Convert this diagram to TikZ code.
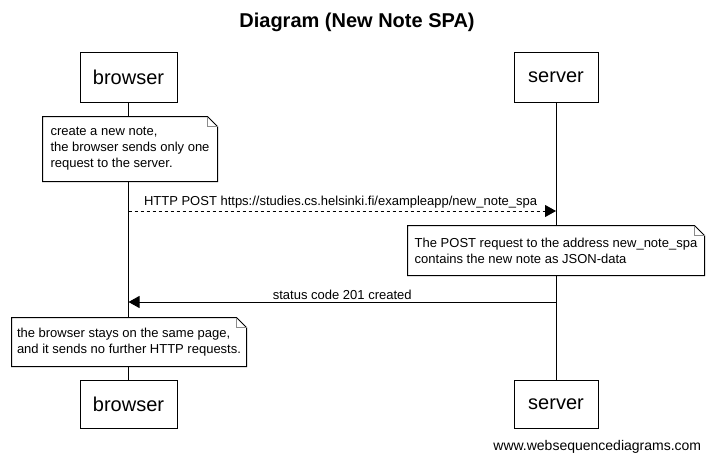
\documentclass[tikz,border=0pt]{standalone}
\usepackage{fontspec}
\setmainfont{Liberation Sans}
\usetikzlibrary{arrows.meta, positioning}

% outline of a note with a folded corner
\newcommand{\notefold}[1]{%
  \draw (#1.south west) -- (#1.north west) -- ([xshift=-10pt]#1.north east)
        -- ([yshift=-10pt]#1.north east) -- (#1.south east) -- cycle;
  \draw[black!45] ([xshift=-10pt]#1.north east) -- ([xshift=-10pt,yshift=-10pt]#1.north east)
        -- ([yshift=-10pt]#1.north east);}

\begin{document}
\begin{tikzpicture}[
    x=1pt, y=-1pt, line width=1pt,
    actor/.style={rectangle, draw, fill=white, minimum height=50pt, font=\fontsize{20}{24}\selectfont},
    note/.style={rectangle, fill=white, align=left, inner sep=0pt, font=\fontsize{13}{16}\selectfont},
    msg/.style={font=\fontsize{13}{16}\selectfont, inner sep=2pt},
    tip/.style={-{Triangle[length=11pt, width=12pt]}}
]
\useasboundingbox (0,0) rectangle (714,463);

% TITLE
\node[font=\bfseries\fontsize{20}{24}\selectfont] (title) at (357,22) {Diagram (New Note SPA)};

% PARTICIPANTS
\node[actor, minimum width=97pt] (browser-top) at (128.5,77.5) {browser};
\node[actor, minimum width=84pt] (server-top) at (556,77.5) {server};
\node[actor, minimum width=97pt, minimum height=48pt] (browser-bot) at (128.5,404.5) {browser};
\node[actor, minimum width=84pt, minimum height=48pt] (server-bot) at (556,404.5) {server};

% Lifelines
\draw (browser-top) -- (browser-bot);
\draw (server-top) -- (server-bot);

% NOTE 1
\node[note, minimum width=174pt, minimum height=64pt] (note1) at (130,149) {
    create a new note,\\
    the browser sends only one\\
    request to the server.
};
\notefold{note1}

% POST request
\coordinate (post-from) at (browser-top |- 0,211);
\coordinate (post-to) at (server-top |- 0,211);
\draw[tip, dashed] (post-from) -- (post-to)
    node[msg, above right, pos=0, xshift=13pt] (post-label) {HTTP POST https://studies.cs.helsinki.fi/exampleapp/new\_note\_spa};

% NOTE 2
\node[note, minimum width=296pt, minimum height=49pt] (note2) at (556,250.5) {
    The POST request to the address new\_note\_spa\\
    contains the new note as JSON-data
};
\notefold{note2}

% Response
\coordinate (resp-from) at (server-top |- 0,302);
\coordinate (resp-to) at (browser-top |- 0,302);
\draw[tip] (resp-from) -- (resp-to)
    node[msg, above, midway] (resp-label) {status code 201 created};

% NOTE 3
\node[note, minimum width=234pt, minimum height=48pt] (note3) at (129,342) {
    the browser stays on the same page,\\
    and it sends no further HTTP requests.
};
\notefold{note3}

% Footer
\node[font=\fontsize{14}{17}\selectfont, anchor=east] (footer) at (705,447) {www.websequencediagrams.com};

\end{tikzpicture}
\end{document}
